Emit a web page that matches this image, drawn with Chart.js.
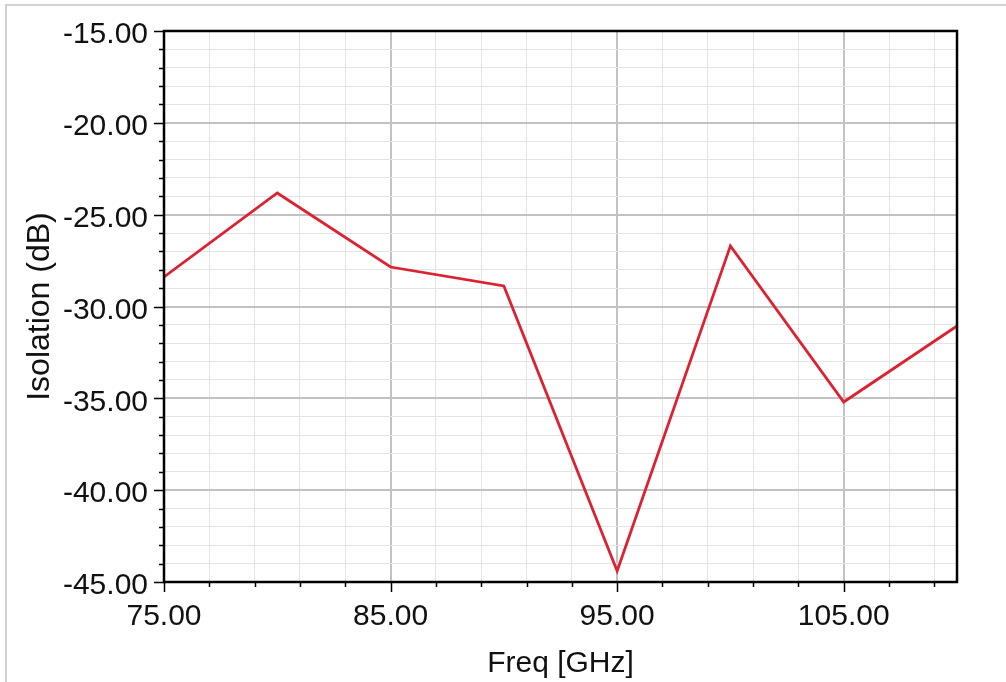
<!DOCTYPE html>
<html>
<head>
<meta charset="utf-8">
<script src="https://cdn.jsdelivr.net/npm/chart.js@4.4.1/dist/chart.umd.min.js"></script>
<style>
  html, body { margin: 0; padding: 0; background: #ffffff; }
  #wrap { width: 1006px; height: 682px; position: relative; }
</style>
</head>
<body>
<div id="wrap"><canvas id="c" width="1006" height="682"></canvas></div>
<script>
// ---- data ----
const freqGHz = [75, 80, 85, 90, 95, 100, 105, 110];
const isolationDb = [-28.39, -23.82, -27.85, -28.88, -44.40, -26.70, -35.20, -31.06];

// ---- axis ticks ----
const xGridValues = [75, 77, 79, 81, 83, 85, 87, 89, 91, 93, 95, 97, 99, 101, 103, 105, 107, 109];
const xLabelValues = [75, 85, 95, 105];
const yMajorValues = [-45, -40, -35, -30, -25, -20, -15];

const FONT = "'Liberation Sans', Arial, sans-serif";
const MAJOR_GRID = '#c2c2c2';
const MINOR_GRID = '#e4e4e4';

const framePlugin = {
  id: 'frame',
  afterDraw(chart) {
    const ctx = chart.ctx;
    const a = chart.chartArea;
    const xs = chart.scales.x, ys = chart.scales.y;
    ctx.save();
    // outer light frame (top & left)
    ctx.strokeStyle = '#d2d2d2';
    ctx.lineWidth = 2;
    ctx.beginPath();
    ctx.moveTo(6, 682); ctx.lineTo(6, 5); ctx.lineTo(1006, 5);
    ctx.stroke();
    // tick marks
    ctx.strokeStyle = '#000';
    ctx.lineWidth = 1.5;
    ctx.beginPath();
    xGridValues.forEach(v => {
      const px = Math.round(xs.getPixelForValue(v)) + 0.5;
      const len = xLabelValues.includes(v) ? 10 : 5;
      ctx.moveTo(px, a.bottom); ctx.lineTo(px, a.bottom + len);
    });
    for (let v = -45; v <= -15; v += 1) {
      const py = Math.round(ys.getPixelForValue(v)) + 0.5;
      const len = yMajorValues.includes(v) ? 10 : 5;
      ctx.moveTo(a.left, py); ctx.lineTo(a.left - len, py);
    }
    ctx.stroke();
    // plot border
    ctx.lineWidth = 2.5;
    ctx.strokeRect(a.left, a.top, a.right - a.left, a.bottom - a.top);
    ctx.restore();
  }
};

new Chart(document.getElementById('c'), {
  type: 'line',
  data: {
    datasets: [{
      data: freqGHz.map((f, i) => ({ x: f, y: isolationDb[i] })),
      borderColor: '#dc2230',
      borderWidth: 2.8,
      pointRadius: 0,
      tension: 0,
      fill: false
    }]
  },
  options: {
    responsive: false,
    animation: false,
    devicePixelRatio: 1,
    layout: { padding: { left: 0, right: 49, top: 31, bottom: 0 } },
    plugins: { legend: { display: false }, tooltip: { enabled: false } },
    scales: {
      x: {
        type: 'linear',
        min: 75, max: 110,
        afterBuildTicks: (s) => { s.ticks = xGridValues.map(v => ({ value: v })); },
        afterFit: (s) => { s.height = 100; },
        border: { display: false },
        grid: {
          drawTicks: false,
          color: (c) => xLabelValues.includes(c.tick && c.tick.value) ? MAJOR_GRID : MINOR_GRID,
          lineWidth: (c) => xLabelValues.includes(c.tick && c.tick.value) ? 2 : 1
        },
        ticks: {
          autoSkip: false, maxRotation: 0, padding: 17,
          color: '#111',
          font: { family: FONT, size: 30, lineHeight: 1.2 },
          callback: (v) => xLabelValues.includes(v) ? v.toFixed(2) : ''
        },
        title: {
          display: true, text: 'Freq [GHz]', color: '#111',
          font: { family: FONT, size: 30, lineHeight: 1.2 },
          padding: { top: 0, bottom: 0 }
        }
      },
      y: {
        type: 'linear',
        min: -45, max: -15,
        afterFit: (s) => { s.width = 164; },
        border: { display: false },
        grid: {
          drawTicks: false,
          color: (c) => yMajorValues.includes(c.tick && c.tick.value) ? MAJOR_GRID : MINOR_GRID,
          lineWidth: (c) => yMajorValues.includes(c.tick && c.tick.value) ? 2 : 1
        },
        ticks: {
          stepSize: 1, autoSkip: false, padding: 16,
          color: '#111',
          // two-line label with an empty first line nudges the text ~4px below its tick
          font: { family: FONT, size: 30, lineHeight: '8px' },
          callback: (v) => yMajorValues.includes(v) ? ['', v.toFixed(2)] : ''
        },
        title: {
          display: true, text: 'Isolation (dB)', color: '#111',
          font: { family: FONT, size: 32, lineHeight: 1.2 },
          padding: { top: 21, bottom: 0 }
        }
      }
    }
  },
  plugins: [framePlugin]
});
</script>
</body>
</html>
